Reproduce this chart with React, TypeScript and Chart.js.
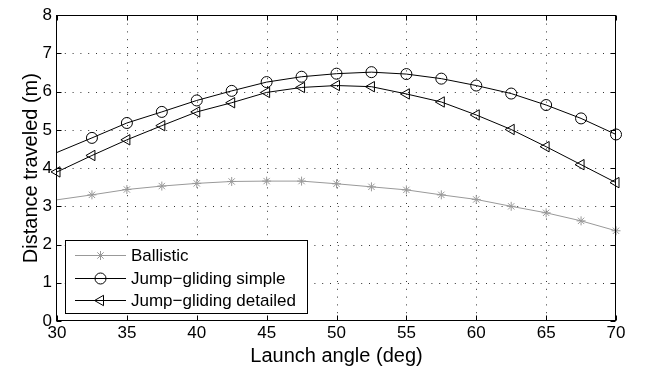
import React, { useEffect, useRef } from 'react';
import { Chart, registerables } from 'chart.js';

Chart.register(...registerables);

// ---- Data ----
const angles = [30, 32.5, 35, 37.5, 40, 42.5, 45, 47.5, 50, 52.5, 55, 57.5, 60, 62.5, 65, 67.5, 70];
const ballistic = [3.17, 3.30, 3.44, 3.53, 3.60, 3.65, 3.66, 3.66, 3.59, 3.51, 3.43, 3.30, 3.18, 3.00, 2.83, 2.62, 2.36];
const jumpSimple = [4.41, 4.79, 5.18, 5.47, 5.77, 6.02, 6.25, 6.39, 6.47, 6.51, 6.46, 6.34, 6.16, 5.95, 5.65, 5.30, 4.88];
const jumpDetailed = [3.90, 4.33, 4.74, 5.11, 5.47, 5.71, 5.98, 6.11, 6.16, 6.13, 5.94, 5.73, 5.39, 5.01, 4.56, 4.09, 3.62];

const xTicks = [30, 35, 40, 45, 50, 55, 60, 65, 70];
const yTicks = [0, 1, 2, 3, 4, 5, 6, 7, 8];

const seriesLabels = ['Ballistic', 'Jump\u2212gliding simple', 'Jump\u2212gliding detailed'];
const xTitle = 'Launch angle (deg)';
const yTitle = 'Distance traveled (m)';

const FONT = '"Liberation Sans", Arial, Helvetica, sans-serif';
const GRAY = '#999999';

function drawAsterisk(ctx: CanvasRenderingContext2D, x: number, y: number, r: number) {
  const d = r * Math.SQRT1_2;
  ctx.beginPath();
  ctx.moveTo(x - r, y); ctx.lineTo(x + r, y);
  ctx.moveTo(x, y - r); ctx.lineTo(x, y + r);
  ctx.moveTo(x - d, y - d); ctx.lineTo(x + d, y + d);
  ctx.moveTo(x - d, y + d); ctx.lineTo(x + d, y - d);
  ctx.stroke();
}
function drawCircle(ctx: CanvasRenderingContext2D, x: number, y: number, r: number) {
  ctx.beginPath();
  ctx.arc(x, y, r, 0, Math.PI * 2);
  ctx.stroke();
}
function drawLeftTriangle(ctx: CanvasRenderingContext2D, x: number, y: number, r: number) {
  ctx.beginPath();
  ctx.moveTo(x - r, y);
  ctx.lineTo(x + r / 2, y - r * Math.sqrt(3) / 2);
  ctx.lineTo(x + r / 2, y + r * Math.sqrt(3) / 2);
  ctx.closePath();
  ctx.stroke();
}

const framePlugin = {
  id: 'matlabFrame',
  beforeDatasetsDraw(chart: any) {
    const { ctx, chartArea: a, scales } = chart;
    const xs = scales.x, ys = scales.y;
    ctx.save();
    ctx.strokeStyle = '#333';
    ctx.lineWidth = 1;
    ctx.setLineDash([1, 6.8]);
    xTicks.forEach((t) => {
      if (t === xTicks[0] || t === xTicks[xTicks.length - 1]) return;
      const px = Math.round(xs.getPixelForValue(t)) + 0.5;
      ctx.beginPath();
      ctx.moveTo(px, a.bottom);
      ctx.lineTo(px, a.top);
      ctx.stroke();
    });
    yTicks.forEach((t) => {
      if (t === yTicks[0] || t === yTicks[yTicks.length - 1]) return;
      const py = Math.round(ys.getPixelForValue(t)) + 0.5;
      ctx.beginPath();
      ctx.moveTo(a.left, py);
      ctx.lineTo(a.right, py);
      ctx.stroke();
    });
    ctx.restore();
  },
  afterDraw(chart: any) {
    const { ctx, chartArea: a, scales } = chart;
    const xs = scales.x, ys = scales.y;
    const L = Math.round(a.left) - 0.5, R = Math.round(a.right) - 0.5;
    const T = Math.round(a.top) + 0.5, B = Math.round(a.bottom) - 0.5;
    ctx.save();
    ctx.strokeStyle = '#000';
    ctx.lineWidth = 1;
    ctx.setLineDash([]);
    ctx.strokeRect(L, T, R - L, B - T);
    const tl = 5;
    ctx.beginPath();
    xTicks.forEach((t) => {
      const px = Math.round(xs.getPixelForValue(t)) + 0.5;
      ctx.moveTo(px, B); ctx.lineTo(px, B - tl);
      ctx.moveTo(px, T); ctx.lineTo(px, T + tl);
    });
    yTicks.forEach((t) => {
      const py = Math.round(ys.getPixelForValue(t)) + 0.5;
      ctx.moveTo(L, py); ctx.lineTo(L + tl, py);
      ctx.moveTo(R, py); ctx.lineTo(R - tl, py);
    });
    ctx.stroke();

    // Legend box
    const bx = 65.5, by = 240.5, bw = 242, bh = 73;
    ctx.fillStyle = '#fff';
    ctx.fillRect(bx, by, bw, bh);
    ctx.strokeRect(bx, by, bw, bh);
    const rows = [255, 278, 300];
    const lineX0 = 75, lineX1 = 126, mx = 100.5, textX = 131;
    ctx.font = `17px ${FONT}`;
    ctx.textBaseline = 'middle';
    ctx.textAlign = 'left';
    rows.forEach((ry, i) => {
      const col = i === 0 ? GRAY : '#000';
      ctx.strokeStyle = col;
      ctx.lineWidth = 1;
      ctx.beginPath();
      ctx.moveTo(lineX0, ry + 0.5);
      ctx.lineTo(lineX1, ry + 0.5);
      ctx.stroke();
      if (i === 0) drawAsterisk(ctx, mx, ry + 0.5, 4.5);
      if (i === 1) drawCircle(ctx, mx, ry + 0.5, 5.5);
      if (i === 2) drawLeftTriangle(ctx, mx, ry + 0.5, 6);
      ctx.fillStyle = '#000';
      ctx.fillText(seriesLabels[i], textX, ry + 1);
    });
    ctx.restore();
  },
};

export default function App() {
  const canvasRef = useRef<HTMLCanvasElement | null>(null);

  useEffect(() => {
    document.body.style.margin = '0';
    const canvas = canvasRef.current;
    if (!canvas) return;

    const toXY = (vals: number[]) => angles.map((a, i) => ({ x: a, y: vals[i] }));
    const radiiNoFirst = angles.map((_, i) => (i === 0 ? 0 : 1));

    const chart = new Chart(canvas, {
      type: 'line',
      data: {
        datasets: [
          {
            label: seriesLabels[0],
            data: toXY(ballistic),
            borderColor: GRAY,
            borderWidth: 1,
            pointStyle: 'star',
            pointRadius: radiiNoFirst.map((r) => r * 4.5),
            pointBorderColor: GRAY,
            pointBorderWidth: 1,
            pointBackgroundColor: 'rgba(0,0,0,0)',
            tension: 0,
            clip: false as any,
          },
          {
            label: seriesLabels[1],
            data: toXY(jumpSimple),
            borderColor: '#000',
            borderWidth: 1,
            pointStyle: 'circle',
            pointRadius: radiiNoFirst.map((r) => r * 5.5),
            pointBorderColor: '#000',
            pointBorderWidth: 1,
            pointBackgroundColor: 'rgba(0,0,0,0)',
            tension: 0,
            clip: false as any,
          },
          {
            label: seriesLabels[2],
            data: toXY(jumpDetailed),
            borderColor: '#000',
            borderWidth: 1,
            pointStyle: 'triangle',
            pointRotation: -90,
            pointRadius: 6,
            pointBorderColor: '#000',
            pointBorderWidth: 1,
            pointBackgroundColor: 'rgba(0,0,0,0)',
            tension: 0,
            clip: false as any,
          },
        ],
      },
      options: {
        animation: false,
        responsive: false,
        events: [],
        layout: { padding: { top: 7, right: 30, left: 0, bottom: 0 } },
        plugins: {
          legend: { display: false },
          tooltip: { enabled: false },
        },
        scales: {
          x: {
            type: 'linear',
            min: 30,
            max: 70,
            afterFit: (s: any) => { s.height = 53; },
            afterBuildTicks: (s: any) => { s.ticks = xTicks.map((v) => ({ value: v })); },
            grid: { display: false, drawTicks: false },
            border: { display: false },
            ticks: {
              color: '#000',
              font: { family: FONT, size: 17 },
              padding: 2,
              maxRotation: 0,
              autoSkip: false,
            },
            title: {
              display: true,
              text: xTitle,
              color: '#000',
              font: { family: FONT, size: 20 },
              padding: { top: 0, bottom: 5.5 },
            },
          },
          y: {
            type: 'linear',
            min: 0,
            max: 8,
            afterFit: (s: any) => { s.width = 57; },
            afterBuildTicks: (s: any) => { s.ticks = yTicks.map((v) => ({ value: v })); },
            grid: { display: false, drawTicks: false },
            border: { display: false },
            ticks: {
              color: '#000',
              font: { family: FONT, size: 17 },
              padding: 5,
              autoSkip: false,
            },
            title: {
              display: true,
              text: yTitle,
              color: '#000',
              font: { family: FONT, size: 20 },
              padding: { top: 19.5, bottom: 0 },
            },
          },
        },
      },
      plugins: [framePlugin],
    } as any);

    return () => chart.destroy();
  }, []);

  return (
    <div style={{ position: 'absolute', left: 0, top: 0, width: 646, height: 374, background: '#fff' }}>
      <canvas ref={canvasRef} width={646} height={374} style={{ display: 'block', width: 646, height: 374 }} />
    </div>
  );
}
